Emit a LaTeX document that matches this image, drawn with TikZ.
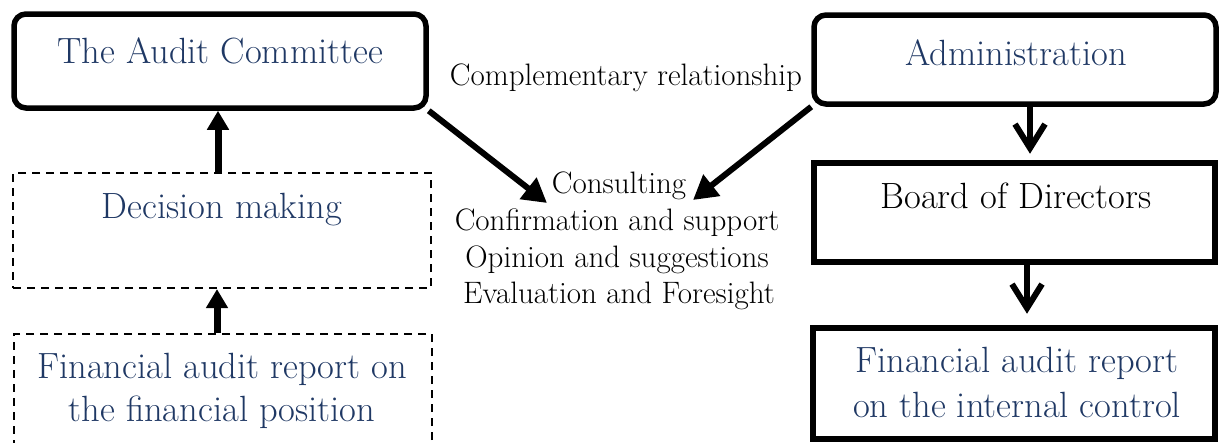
\documentclass[tikz,border=0pt]{standalone}
\usetikzlibrary{arrows.meta}
\definecolor{txtblue}{RGB}{31,56,100}
\begin{document}
\begin{tikzpicture}[x=1pt,y=-1pt,
  boxtxt/.style={font=\fontsize{36.5}{43}\selectfont, text=txtblue, anchor=base, inner sep=0pt},
  blacktxt/.style={font=\fontsize{36.5}{43}\selectfont, anchor=base, inner sep=0pt},
  midtxt/.style={font=\fontsize{31}{37}\selectfont, anchor=base, inner sep=0pt},
  roundbox/.style={draw, line width=5.5pt, rounded corners=12pt, inner sep=0pt},
  solidbox/.style={draw, line width=6.5pt, inner sep=0pt},
  dashbox/.style={draw, line width=2.2pt, dash pattern=on 8pt off 6pt, inner sep=0pt},
  uparrow/.style={line width=7pt, -{Triangle[length=19pt,width=21pt]}},
  diagarrow/.style={line width=6pt, -{Triangle[length=24pt,width=26pt]}},
  downarrow/.style={line width=6pt, line cap=round, -{Straight Barb[length=24pt,width=30pt]}}
]
\useasboundingbox (0,0) rectangle (1221,442);
\clip (0,0) rectangle (1221,442);

% left column
\node[roundbox, minimum width=412pt, minimum height=94pt] (audit) at (220,61) {};
\node[boxtxt] (audittxt) at (220,63) {The Audit Committee};

\node[dashbox, minimum width=418pt, minimum height=115pt] (dec) at (222,230.5) {};
\node[boxtxt] (dectxt) at (222,218) {Decision making};

\node[dashbox, minimum width=418pt, minimum height=150pt] (finl) at (223,409) {};
\node[boxtxt] (finl1) at (222,378) {Financial audit report on};
\node[boxtxt] (finl2) at (222,421) {the financial position};

\coordinate (ax1) at (218,0);
\coordinate (ax2) at (217,0);
\draw[uparrow] (dec.north -| ax1) -- (audit.south -| ax1);
\draw[uparrow] (finl.north -| ax2) -- (dec.south -| ax2);

% middle
\node[midtxt] (compl) at (626,85) {Complementary relationship};
\node[midtxt] (m1) at (619,193) {Consulting};
\node[midtxt] (m2) at (617,230) {Confirmation and support};
\node[midtxt] (m3) at (617,267) {Opinion and suggestions};
\node[midtxt] (m4) at (619,303) {Evaluation and Foresight};

\coordinate (tipL) at (547,203);
\coordinate (tipR) at (693,200);

% right column
\node[roundbox, minimum width=402pt, minimum height=89pt] (admin) at (1015,59.5) {};
\node[boxtxt] (admintxt) at (1016,65) {Administration};

\node[solidbox, minimum width=401pt, minimum height=99pt] (board) at (1014.5,212.5) {};
\node[blacktxt] (boardtxt) at (1016,208) {Board of Directors};

\node[solidbox, minimum width=402pt, minimum height=111pt] (finr) at (1014,383.5) {};
\node[boxtxt] (finr1) at (1017,372) {Financial audit report};
\node[boxtxt] (finr2) at (1017,417) {on the internal control};

\coordinate (bx1) at (1030,0);
\coordinate (bx2) at (1027,0);
\draw[downarrow, shorten >=6pt] (admin.south -| bx1) -- (board.north -| bx1);
\draw[downarrow, shorten >=11pt] (board.south -| bx2) -- (finr.north -| bx2);

\draw[diagarrow] (audit.south east) -- (tipL);
\draw[diagarrow] (admin.south west) -- (tipR);
\end{tikzpicture}
\end{document}
